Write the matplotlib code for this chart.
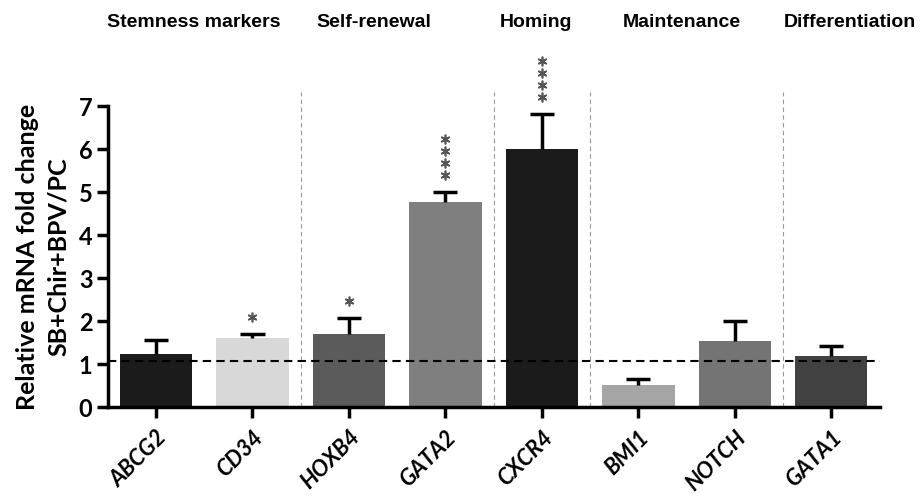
import numpy as np
import matplotlib.pyplot as plt

# values
genes = ['ABCG2', 'CD34', 'HOXB4', 'GATA2', 'CXCR4', 'BMI1', 'NOTCH', 'GATA1']
fold_change = [1.23, 1.60, 1.70, 4.78, 6.00, 0.52, 1.55, 1.20]
sem = [0.33, 0.10, 0.38, 0.22, 0.82, 0.13, 0.45, 0.22]
stars = [0, 1, 1, 4, 4, 0, 0, 0]
bar_colors = ['#1b1b1b', '#d8d8d8', '#5b5b5b', '#7f7f7f', '#1b1b1b', '#a5a5a5', '#747474', '#414141']
baseline = 1.08

groups = ['Stemness markers', 'Self-renewal', 'Homing', 'Maintenance', 'Differentiation']
group_x = [0.39, 2.26, 3.94, 5.45, 7.19]
separators = [1.5, 3.5, 4.5, 6.5]

fig = plt.figure(figsize=(9.21, 4.96), dpi=100)
ax = fig.add_axes([0.117, 0.179, 0.838, 0.607])

x = np.arange(len(genes))
tops = np.array(fold_change) + np.array(sem)
ax.bar(x, fold_change, width=0.75, color=bar_colors, zorder=2)
# upper error bars only
ax.vlines(x, fold_change, tops, color='black', lw=2.5, zorder=3)
ax.hlines(tops, x - 0.125, x + 0.125, color='black', lw=2.5, zorder=3)

# significance asterisks stacked above error bars
for xi, top, n in zip(x, tops, stars):
    for k in range(n):
        ax.plot(xi, top + 0.4 + k * 0.28, marker=(6, 2, 0), ms=7, mew=1.2,
                color='#555555', clip_on=False, zorder=4)

ax.axhline(baseline, color='black', ls=(0, (4, 2.5)), lw=1.5, zorder=4)

for s in separators:
    ax.plot([s, s], [0, 7.33], color='#999999', ls=(0, (4, 3)), lw=0.8,
            clip_on=False, zorder=1)

for g, gx in zip(groups, group_x):
    ax.text(gx, 8.95, g, ha='center', va='center', fontsize=14,
            fontweight='bold', family='Liberation Sans')

ax.set_xlim(-0.5, 7.5)
ax.set_ylim(0, 7)
ax.set_yticks(range(8))
ax.set_xticks(x)
ax.set_xticklabels(genes, rotation=45, ha='right', rotation_mode='anchor',
                   fontsize=16, fontweight='bold', style='italic', family='Lato')
for lbl in ax.get_yticklabels():
    lbl.set_fontsize(17)
    lbl.set_fontweight('bold')
    lbl.set_family('Lato')

ax.set_ylabel('Relative mRNA fold change\nSB+Chir+BPV/PC', fontsize=18,
              fontweight='bold', family='Lato', linespacing=1.45, labelpad=6)

for side in ['top', 'right']:
    ax.spines[side].set_visible(False)
for side in ['left', 'bottom']:
    ax.spines[side].set_linewidth(2.5)
ax.tick_params(axis='both', width=2.5, length=8, direction='out', pad=3)
ax.tick_params(axis='x', pad=6)

fig.savefig('out.png', dpi=100)
